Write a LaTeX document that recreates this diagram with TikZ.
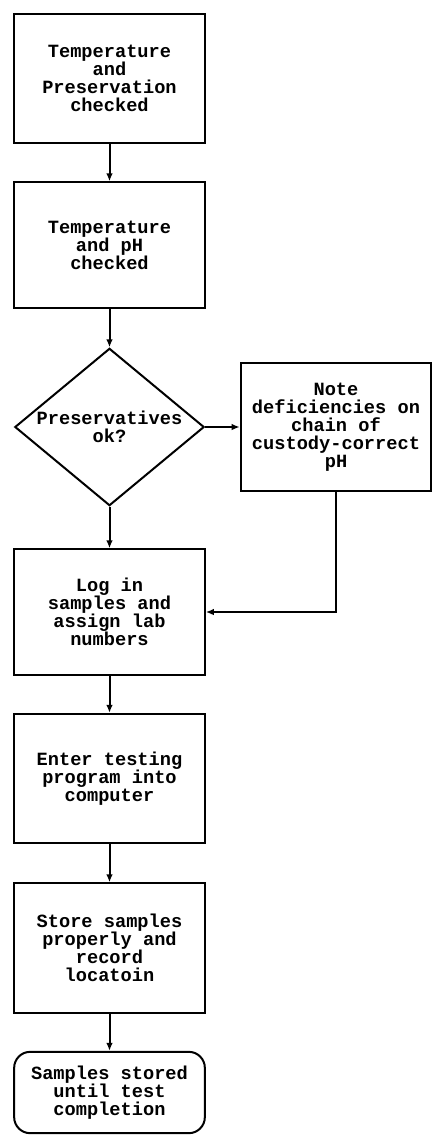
\documentclass[tikz,border=0pt]{standalone}
\usepackage{fontspec}
\setmonofont{Liberation Mono}
\usetikzlibrary{shapes.geometric,arrows.meta}

\begin{document}
\begin{tikzpicture}[x=0.75pt,y=-0.75pt,
	every node/.style={line width=1.5pt,align=center,inner sep=2pt,
		font=\ttfamily\bfseries\fontsize{14}{13.5}\selectfont},
	box/.style={draw,rectangle,minimum width=143pt},
	decision/.style={draw,diamond,minimum width=142pt,minimum height=118pt,inner sep=0pt},
	terminal/.style={draw,rectangle,rounded corners=12pt,minimum width=143pt,minimum height=61pt},
	flow/.style={line width=1.5pt,-{Latex[length=6pt,width=5pt]}}]
	\useasboundingbox (0,0) rectangle (432,1136);

	\node[box,minimum height=97pt] (temp) at (109.5,78.5) {Temperature\\and\\Preservation\\checked};
	\node[box,minimum height=94pt] (ph) at (109.5,245) {Temperature\\and pH\\checked};
	\node[decision,label={center:Preservatives\\ok?}] (pres) at (109.5,427) {};
	\node[box,minimum height=96pt] (note) at (336,427) {Note\\deficiencies on\\chain of\\custody-correct\\pH};
	\node[box,minimum height=94pt] (log) at (109.5,612) {Log in\\samples and\\assign lab\\numbers};
	\node[box,minimum height=97pt] (enter) at (109.5,778.5) {Enter testing\\program into\\computer};
	\node[box,minimum height=97pt] (store) at (109.5,948) {Store samples\\properly and\\record\\locatoin};
	\node[terminal] (done) at (109.5,1092.5) {Samples stored\\until test\\completion};

	\draw[flow] (temp) -- (ph);
	\draw[flow] (ph) -- (pres);
	\draw[flow] (pres) -- (note);
	\draw[flow] (pres) -- (log);
	\draw[flow] (note.south) |- (log.east);
	\draw[flow] (log) -- (enter);
	\draw[flow] (enter) -- (store);
	\draw[flow] (store) -- (done);
\end{tikzpicture}
\end{document}
